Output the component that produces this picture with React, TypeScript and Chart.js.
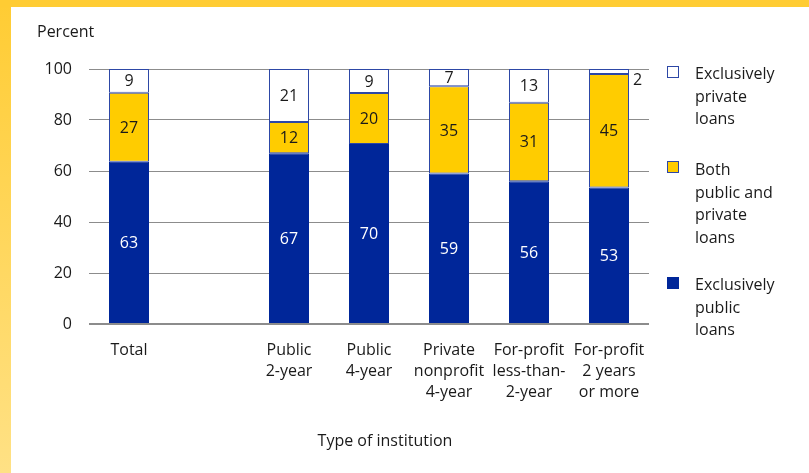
import { useEffect, useRef } from "react";
import { Chart, registerables } from "chart.js";

Chart.register(...registerables);

// ---------- data ----------
const categories: string[][] = [
  ["Total"],
  [""],
  ["Public", "2-year"],
  ["Public", "4-year"],
  ["Private", "nonprofit", "4-year"],
  ["For-profit", "less-than-", "2-year"],
  ["For-profit", "2 years", "or more"],
];

// bar segment values (percent)
const exclusivelyPublic: (number | null)[] = [63.6, null, 67.0, 70.6, 59.0, 56.0, 53.5];
const bothPublicPrivate: (number | null)[] = [27.1, null, 12.2, 20.0, 34.2, 30.8, 44.5];
const exclusivelyPrivate: (number | null)[] = [9.3, null, 20.8, 9.4, 6.8, 13.2, 2.0];

// printed labels on the segments
const exclusivelyPublicLabels = ["63", "", "67", "70", "59", "56", "53"];
const bothPublicPrivateLabels = ["27", "", "12", "20", "35", "31", "45"];
const exclusivelyPrivateLabels = ["9", "", "21", "9", "7", "13", "2"];

const yTickValues = [0, 20, 40, 60, 80, 100];

const seriesNames = ["Exclusively public loans", "Both public and private loans", "Exclusively private loans"];

// ---------- styles ----------
const FONT = "'Open Sans', sans-serif";
const TEXT = "#1a1a1a";
const BLUE = "#002699";
const YELLOW = "#FFCC00";
const EDGE = "#2d47a6";

const segLabelPlugin = {
  id: "segLabels",
  afterDatasetsDraw(chart: any) {
    const ctx = chart.ctx;
    const labelSets = [exclusivelyPublicLabels, bothPublicPrivateLabels, exclusivelyPrivateLabels];
    const colors = ["#ffffff", TEXT, TEXT];
    ctx.save();
    ctx.font = `16px ${FONT}`;
    ctx.textBaseline = "middle";
    chart.data.datasets.forEach((_ds: any, i: number) => {
      const meta = chart.getDatasetMeta(i);
      meta.data.forEach((bar: any, j: number) => {
        const t = labelSets[i][j];
        if (!t) return;
        const { x, y, base, width } = bar.getProps(["x", "y", "base", "width"], true);
        const top = Math.min(y, base);
        const bottom = Math.max(y, base);
        const h = bottom - top;
        ctx.fillStyle = colors[i];
        if (h < 14) {
          ctx.fillStyle = TEXT;
          ctx.textAlign = "left";
          ctx.fillText(t, x + width / 2 + 4, top + 11);
        } else {
          ctx.textAlign = "center";
          ctx.fillText(t, x, (top + bottom) / 2 + 1);
        }
      });
    });
    ctx.restore();
  },
};

function LegendItem(props: { top: number; textTop: number; fill: string; border: string; lines: string[] }) {
  return (
    <>
      <div
        style={{
          position: "absolute",
          left: 667,
          top: props.top,
          width: 10,
          height: 10,
          background: props.fill,
          border: `1px solid ${props.border}`,
        }}
      />
      <div
        style={{
          position: "absolute",
          left: 695,
          top: props.textTop,
          fontFamily: FONT,
          fontSize: 16,
          lineHeight: "22.5px",
          color: TEXT,
          whiteSpace: "nowrap",
        }}
      >
        {props.lines.map((l, i) => (
          <div key={i}>{l}</div>
        ))}
      </div>
    </>
  );
}

export default function App() {
  const canvasRef = useRef<HTMLCanvasElement | null>(null);

  useEffect(() => {
    if (!canvasRef.current) return;
    const chart = new Chart(canvasRef.current, {
      type: "bar",
      data: {
        labels: categories,
        datasets: [
          {
            label: seriesNames[0],
            data: exclusivelyPublic,
            backgroundColor: BLUE,
            borderColor: BLUE,
            borderWidth: 1,
            borderSkipped: false,
          },
          {
            label: seriesNames[1],
            data: bothPublicPrivate,
            backgroundColor: YELLOW,
            borderColor: EDGE,
            borderWidth: 1,
            borderSkipped: false,
          },
          {
            label: seriesNames[2],
            data: exclusivelyPrivate,
            backgroundColor: "#ffffff",
            borderColor: EDGE,
            borderWidth: 1,
            borderSkipped: false,
          },
        ],
      } as any,
      options: {
        animation: false,
        responsive: false,
        maintainAspectRatio: false,
        layout: { padding: { top: 69, right: 160, left: 0, bottom: 0 } },
        datasets: { bar: { categoryPercentage: 1, barPercentage: 0.5 } },
        plugins: { legend: { display: false }, tooltip: { enabled: false } },
        scales: {
          x: {
            stacked: true,
            grid: { display: false, drawTicks: false },
            border: { display: false },
            ticks: {
              padding: 16,
              color: TEXT,
              font: { family: FONT, size: 16, lineHeight: 1.3 },
              maxRotation: 0,
              autoSkip: false,
            },
            afterFit: (s: any) => {
              s.height = 149;
            },
          },
          y: {
            stacked: true,
            min: 0,
            max: 100,
            grid: {
              drawTicks: false,
              color: "#8c8c8c",
              lineWidth: (c: any) => (c.tick && c.tick.value === 0 ? 2 : 1),
            },
            border: { display: false },
            afterBuildTicks: (s: any) => {
              s.ticks = yTickValues.map((v) => ({ value: v }));
            },
            ticks: {
              padding: 17,
              color: TEXT,
              font: { family: FONT, size: 16 },
            },
            afterFit: (s: any) => {
              s.width = 89;
            },
          },
        },
      } as any,
      plugins: [segLabelPlugin],
    });
    return () => chart.destroy();
  }, []);

  return (
    <div
      style={{
        position: "fixed",
        left: 0,
        top: 0,
        width: 809,
        height: 473,
        overflow: "hidden",
        background: "linear-gradient(to bottom, #FFCC33, #FFE185)",
      }}
    >
      <div style={{ position: "absolute", left: 0, top: 0, width: 809, height: 7, background: "#FFCC33" }} />
      <div style={{ position: "absolute", left: 11, top: 7, right: 0, bottom: 0, background: "#ffffff" }} />
      <canvas
        ref={canvasRef}
        width={809}
        height={473}
        style={{ position: "absolute", left: 0, top: 0, width: 809, height: 473 }}
      />
      <div
        style={{
          position: "absolute",
          left: 37,
          top: 21,
          fontFamily: FONT,
          fontSize: 16,
          lineHeight: "20px",
          color: TEXT,
        }}
      >
        Percent
      </div>
      <div
        style={{
          position: "absolute",
          left: 285,
          width: 200,
          top: 430,
          textAlign: "center",
          fontFamily: FONT,
          fontSize: 16,
          lineHeight: "20px",
          color: TEXT,
        }}
      >
        Type of institution
      </div>
      <LegendItem top={66} textTop={62} fill="#ffffff" border={EDGE} lines={["Exclusively", "private", "loans"]} />
      <LegendItem top={161} textTop={158} fill={YELLOW} border={EDGE} lines={["Both", "public and", "private", "loans"]} />
      <LegendItem top={277} textTop={273} fill={BLUE} border={BLUE} lines={["Exclusively", "public", "loans"]} />
    </div>
  );
}
